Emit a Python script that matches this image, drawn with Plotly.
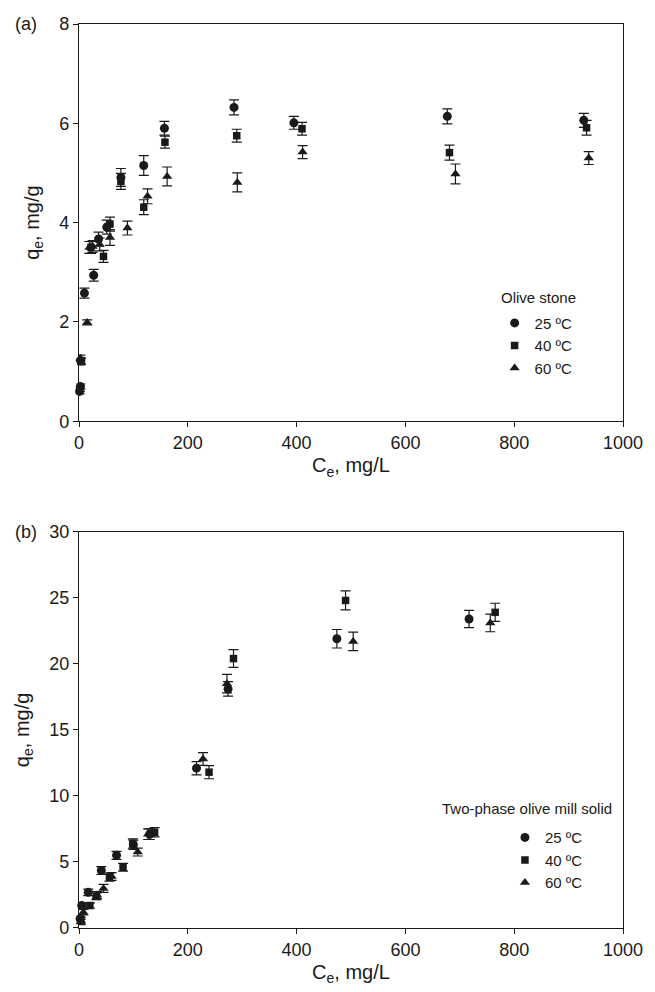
import plotly.graph_objects as go

# ---------------- Panel (a): Olive stone ----------------
a25_x = [1, 2.5, 3, 10, 27, 36, 51, 77, 119, 157, 285, 395, 677, 928]
a25_y = [0.60, 0.70, 1.22, 2.58, 2.94, 3.67, 3.91, 4.91, 5.15, 5.90, 6.32, 6.01, 6.14, 6.06]
a25_e = [0.05, 0.05, 0.06, 0.10, 0.12, 0.14, 0.14, 0.18, 0.20, 0.14, 0.15, 0.13, 0.15, 0.14]

a40_x = [1.5, 3.5, 22, 45, 57, 77, 119, 158, 290, 410, 681, 933]
a40_y = [0.65, 1.20, 3.50, 3.32, 3.97, 4.83, 4.31, 5.62, 5.75, 5.89, 5.41, 5.91]
a40_e = [0.05, 0.06, 0.12, 0.12, 0.14, 0.16, 0.15, 0.12, 0.13, 0.13, 0.15, 0.15]

a60_x = [2.4, 15, 19, 25, 38, 57, 89, 126, 162, 291, 411, 692, 937]
a60_y = [1.27, 1.99, 3.50, 3.52, 3.56, 3.70, 3.89, 4.53, 4.93, 4.81, 5.42, 4.98, 5.30]
a60_e = [0.06, 0.05, 0.12, 0.12, 0.13, 0.16, 0.14, 0.15, 0.19, 0.19, 0.13, 0.20, 0.13]

# ---------------- Panel (b): Two-phase olive mill solid ----------------
b25_x = [2, 5, 17, 41, 69, 100, 130, 216, 274, 474, 717]
b25_y = [0.7, 1.7, 2.7, 4.35, 5.5, 6.3, 7.1, 12.1, 18.1, 21.9, 23.4]
b25_e = [0.2, 0.2, 0.25, 0.3, 0.3, 0.35, 0.4, 0.5, 0.55, 0.7, 0.65]

b40_x = [3, 20, 32, 56, 81, 99, 139, 239, 284, 490, 765]
b40_y = [0.6, 1.7, 2.4, 3.85, 4.6, 6.4, 7.25, 11.8, 20.4, 24.8, 23.9]
b40_e = [0.2, 0.2, 0.25, 0.3, 0.3, 0.35, 0.35, 0.5, 0.67, 0.72, 0.69]

b60_x = [3, 8, 33, 45, 60, 108, 127, 228, 272, 504, 756]
b60_y = [0.45, 1.2, 2.5, 3.0, 3.9, 5.75, 7.1, 12.8, 18.5, 21.7, 23.1]
b60_e = [0.2, 0.2, 0.25, 0.3, 0.3, 0.3, 0.4, 0.48, 0.7, 0.7, 0.67]

series_labels = ["25 ºC", "40 ºC", "60 ºC"]
legend_title_a = "Olive stone"
legend_title_b = "Two-phase olive mill solid"
symbols = ["circle", "square", "triangle-up"]
sizes = [9, 7.5, 9]

FONT = "Liberation Sans, Arial, sans-serif"
INK = "#1a1a1a"

fig = go.Figure()

panel_a = [(a25_x, a25_y, a25_e), (a40_x, a40_y, a40_e), (a60_x, a60_y, a60_e)]
panel_b = [(b25_x, b25_y, b25_e), (b40_x, b40_y, b40_e), (b60_x, b60_y, b60_e)]

for i, (xs, ys, es) in enumerate(panel_a):
    fig.add_trace(go.Scatter(
        x=xs, y=ys, mode="markers", name=series_labels[i],
        marker=dict(symbol=symbols[i], size=sizes[i], color=INK),
        error_y=dict(type="data", array=es, visible=True, color=INK, thickness=1.2, width=5),
        xaxis="x", yaxis="y", legend="legend", cliponaxis=False,
    ))

for i, (xs, ys, es) in enumerate(panel_b):
    fig.add_trace(go.Scatter(
        x=xs, y=ys, mode="markers", name=series_labels[i],
        marker=dict(symbol=symbols[i], size=sizes[i], color=INK),
        error_y=dict(type="data", array=es, visible=True, color=INK, thickness=1.2, width=5),
        xaxis="x2", yaxis="y2", legend="legend2", cliponaxis=False,
    ))

axis_common = dict(
    showline=True, linecolor=INK, linewidth=1.3, mirror=True,
    ticks="outside", ticklen=5, tickwidth=1.2, tickcolor=INK,
    showgrid=False, zeroline=False,
    tickfont=dict(family=FONT, size=18, color=INK),
)

title_font = dict(family=FONT, size=20, color=INK)
leg_font = dict(family=FONT, size=15, color=INK)

fig.update_layout(
    width=655, height=992,
    margin=dict(l=79, r=23, t=24, b=63),
    paper_bgcolor="white", plot_bgcolor="white",
    font=dict(family=FONT, color=INK),
    xaxis=dict(domain=[0, 1], anchor="y", range=[0, 1000], tickvals=[0, 200, 400, 600, 800, 1000],
               title=dict(text="C<sub>e</sub>, mg/L", font=title_font, standoff=6), **axis_common),
    yaxis=dict(domain=[0.5606, 1], anchor="x", range=[0, 8], tickvals=[0, 2, 4, 6, 8],
               title=dict(text="q<sub>e</sub>, mg/g", font=title_font, standoff=14), **axis_common),
    xaxis2=dict(domain=[0, 1], anchor="y2", range=[0, 1000], tickvals=[0, 200, 400, 600, 800, 1000],
                title=dict(text="C<sub>e</sub>, mg/L", font=title_font, standoff=6), **axis_common),
    yaxis2=dict(domain=[0, 0.4383], anchor="x2", range=[0, 30], tickvals=[0, 5, 10, 15, 20, 25, 30],
                title=dict(text="q<sub>e</sub>, mg/g", font=title_font, standoff=14), **axis_common),
    legend=dict(
        x=0.764, y=0.6873, xanchor="left", yanchor="top",
        font=leg_font, bgcolor="rgba(0,0,0,0)", tracegroupgap=0, itemwidth=30,
    ),
    legend2=dict(
        x=0.783, y=0.1182, xanchor="left", yanchor="top",
        font=leg_font, bgcolor="rgba(0,0,0,0)", tracegroupgap=0, itemwidth=30,
    ),
    showlegend=True,
)

fig.add_annotation(text=legend_title_a, xref="paper", yref="paper", x=0.7718, y=0.6976,
                   xanchor="left", yanchor="middle", showarrow=False, font=leg_font)
fig.add_annotation(text=legend_title_b, xref="paper", yref="paper", x=0.6637, y=0.1323,
                   xanchor="left", yanchor="middle", showarrow=False, font=leg_font)

fig.add_annotation(text="(a)", xref="paper", yref="paper", x=-0.122, y=1.0,
                   xanchor="left", yanchor="middle", showarrow=False,
                   font=dict(family=FONT, size=18, color=INK))
fig.add_annotation(text="(b)", xref="paper", yref="paper", x=-0.122, y=0.4383,
                   xanchor="left", yanchor="middle", showarrow=False,
                   font=dict(family=FONT, size=18, color=INK))

fig.write_html("out.html")
